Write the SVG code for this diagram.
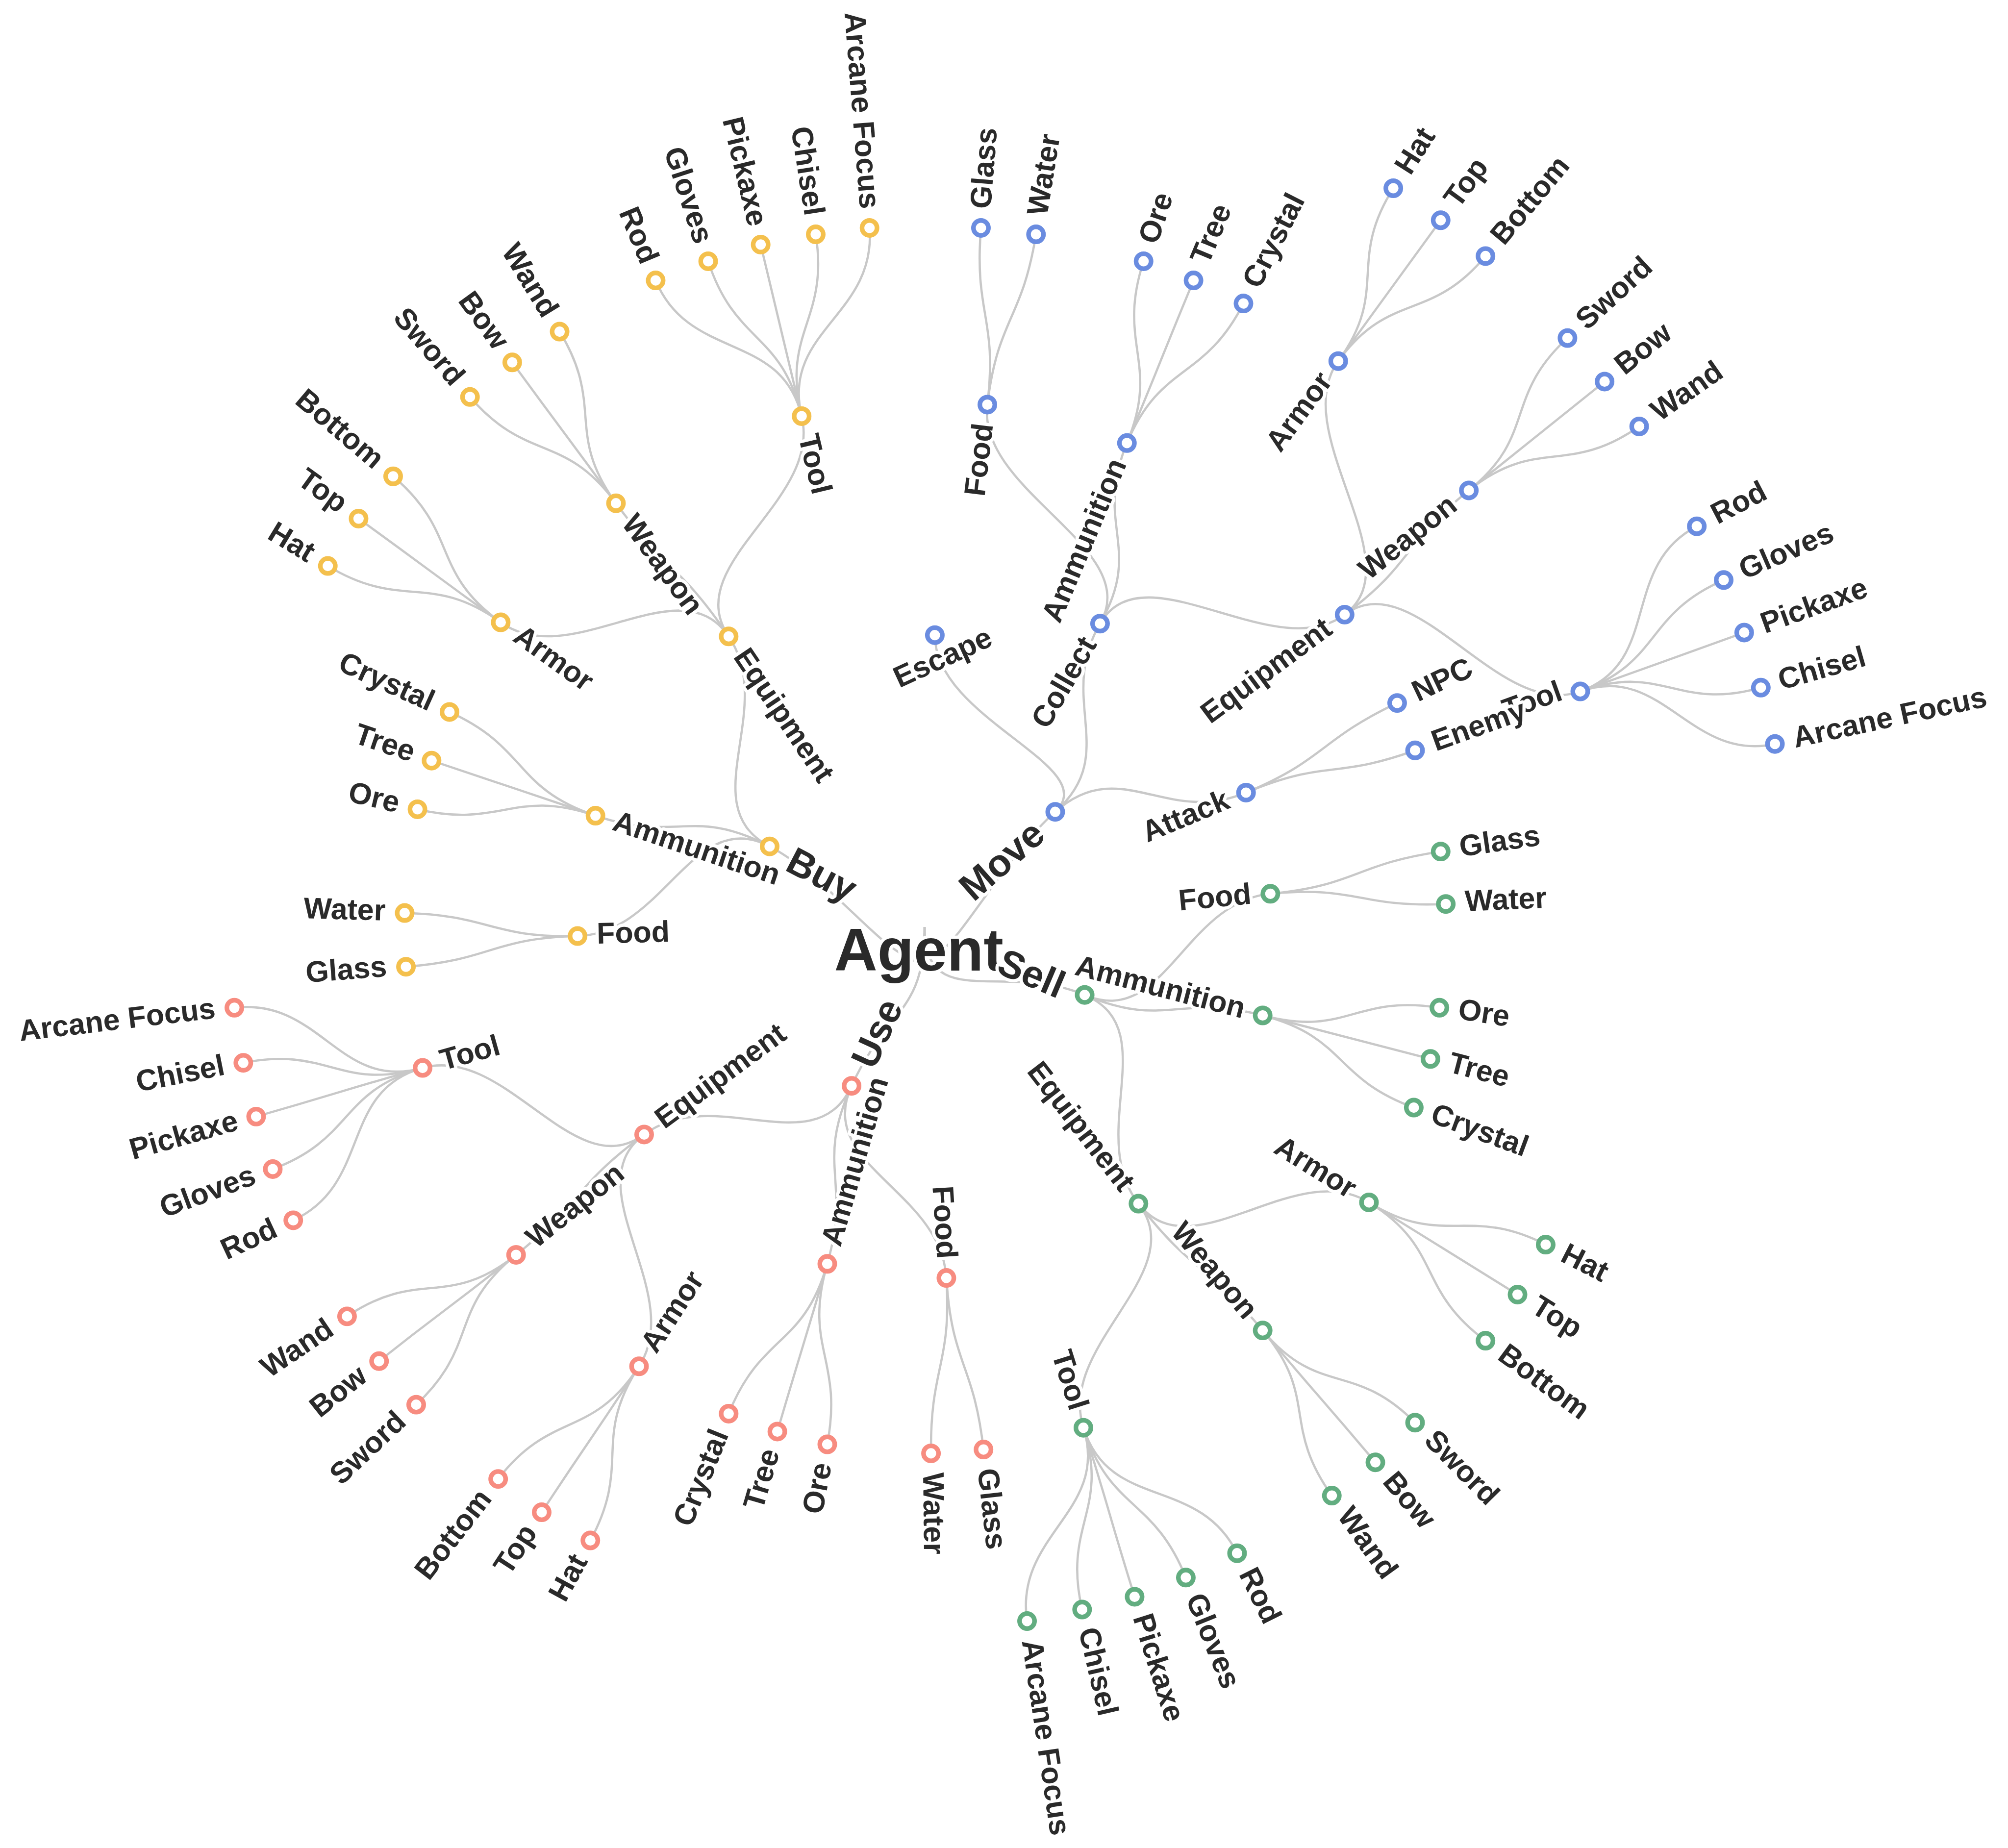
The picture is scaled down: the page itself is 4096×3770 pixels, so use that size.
<svg xmlns="http://www.w3.org/2000/svg" width="4096" height="3770" viewBox="0 0 4096 3770">
<style>
.lk path{fill:none;stroke:#c8c8c8;stroke-width:1.75}
circle{fill:#fff;stroke-width:3.6}
.y circle{stroke:#F4C04D}
.b circle{stroke:#6A8CE0}
.g circle{stroke:#62AD80}
.r circle{stroke:#F78C80}
text{font-family:"Liberation Sans",Arial,Helvetica,sans-serif;font-weight:700;font-size:23.3px;fill:#2a2a2a;stroke:#fff;stroke-width:5px;stroke-linejoin:round;paint-order:stroke}
text.e{text-anchor:end}
text.d1{font-size:30px}
#root text{font-size:46.6px;text-anchor:middle}
#root circle{fill:#d8d8d8;stroke:#c2c2c2;stroke-width:2}
</style>
<rect width="4096" height="3770" fill="#fff"/>
<g transform="translate(1886.04,1891.26) scale(2.61224)">
<g id="links" class="lk">
<path d="M0,0C0,68 -60.5,-31.5 -121,-63"/>
<path d="M0,0C0,68 51,-45 102,-90"/>
<path d="M0,0C0,68 62.5,26.5 125,53"/>
<path d="M0,0C0,68 -28.5,62 -57,124"/>
<path d="M-121,-63C-181.5,-94.5 -192.8,-65.3 -257,-87"/>
<path d="M-121,-63C-181.5,-94.5 -203.3,5.3 -271,7"/>
<path d="M-121,-63C-181.5,-94.5 -114.8,-170.3 -153,-227"/>
<path d="M102,-90C153,-135 102.8,-177.8 137,-237"/>
<path d="M102,-90C153,-135 188.3,-78.8 251,-105"/>
<path d="M102,-90C140,-126 8,-162 8,-228"/>
<path d="M125,53C187.5,79.5 202.5,-19.5 270,-26"/>
<path d="M125,53C187.5,79.5 198,51.8 264,69"/>
<path d="M125,53C187.5,79.5 125.3,162 167,216"/>
<path d="M-57,124C-85.5,186 -164.3,121.5 -219,162"/>
<path d="M-57,124C-85.5,186 -57,197.3 -76,263"/>
<path d="M-57,124C-85.5,186 12.8,205.5 17,274"/>
<path d="M-257,-87C-321.3,-108.8 -309.2,-140 -371,-168"/>
<path d="M-257,-87C-321.3,-108.8 -320.8,-108.3 -385,-130"/>
<path d="M-257,-87C-321.3,-108.8 -330,-76.7 -396,-92"/>
<path d="M-271,7C-338.8,8.8 -338.3,-9.2 -406,-11"/>
<path d="M-271,7C-338.8,8.8 -337.5,25.8 -405,31"/>
<path d="M-153,-227C-191.3,-283.8 -275.8,-198.3 -331,-238"/>
<path d="M-153,-227C-191.3,-283.8 -200.8,-275.8 -241,-331"/>
<path d="M-153,-227C-191.3,-283.8 -80,-332.5 -96,-399"/>
<path d="M137,-237C171.3,-296.3 40.8,-340 49,-408"/>
<path d="M137,-237C171.3,-296.3 131.7,-315 158,-378"/>
<path d="M137,-237C171.3,-296.3 273.3,-203.3 328,-244"/>
<path d="M251,-105C313.8,-131.3 307.5,-145.8 369,-175"/>
<path d="M251,-105C313.8,-131.3 319.2,-115 383,-138"/>
<path d="M270,-26C337.5,-32.5 335.8,-49.2 403,-59"/>
<path d="M270,-26C337.5,-32.5 339.2,-15 407,-18"/>
<path d="M264,69C330,86.3 335,52.5 402,63"/>
<path d="M264,69C330,86.3 329.2,85.8 395,103"/>
<path d="M264,69C330,86.3 318.3,117.5 382,141"/>
<path d="M167,216C208.8,270 289.2,179.2 347,215"/>
<path d="M167,216C208.8,270 220,262.5 264,315"/>
<path d="M167,216C208.8,270 103.3,325.8 124,391"/>
<path d="M-219,162C-273.8,202.5 -326.7,91.7 -392,110"/>
<path d="M-219,162C-273.8,202.5 -265.8,213.3 -319,256"/>
<path d="M-219,162C-273.8,202.5 -185.8,285.8 -223,343"/>
<path d="M-76,263C-95,328.8 -127.5,316.7 -153,380"/>
<path d="M-76,263C-95,328.8 -95.8,328.3 -115,394"/>
<path d="M-76,263C-95,328.8 -63.3,336.7 -76,404"/>
<path d="M17,274C21.3,342.5 4.2,342.5 5,411"/>
<path d="M17,274C21.3,342.5 38.3,340 46,408"/>
<path d="M-331,-238C-386.2,-277.7 -363.1,-308 -415,-352"/>
<path d="M-331,-238C-386.2,-277.7 -386.8,-279.1 -442,-319"/>
<path d="M-331,-238C-386.2,-277.7 -407.8,-246.8 -466,-282"/>
<path d="M-241,-331C-281.2,-386.2 -310.6,-362.3 -355,-414"/>
<path d="M-241,-331C-281.2,-386.2 -281.8,-385.9 -322,-441"/>
<path d="M-241,-331C-281.2,-386.2 -249.4,-406.9 -285,-465"/>
<path d="M-96,-399C-112,-465.5 -183.8,-441.9 -210,-505"/>
<path d="M-96,-399C-112,-465.5 -147.9,-455 -169,-520"/>
<path d="M-96,-399C-112,-465.5 -112,-466.4 -128,-533"/>
<path d="M-96,-399C-112,-465.5 -74.4,-473.4 -85,-541"/>
<path d="M-96,-399C-112,-465.5 -37.6,-477.8 -43,-546"/>
<path d="M49,-408C57.2,-476 38.5,-477.8 44,-546"/>
<path d="M49,-408C57.2,-476 76.1,-473.4 87,-541"/>
<path d="M158,-378C184.3,-441 149.6,-455 171,-520"/>
<path d="M158,-378C184.3,-441 183.8,-441.9 210,-505"/>
<path d="M158,-378C184.3,-441 217.9,-426.1 249,-487"/>
<path d="M328,-244C382.7,-284.7 282.6,-386.8 323,-442"/>
<path d="M328,-244C382.7,-284.7 371.9,-298.4 425,-341"/>
<path d="M328,-244C382.7,-284.7 448,-161 512,-184"/>
<path d="M347,215C404.8,250.8 424.4,217 485,248"/>
<path d="M347,215C404.8,250.8 405.1,251.1 463,287"/>
<path d="M347,215C404.8,250.8 383.3,282.6 438,323"/>
<path d="M264,315C308,367.5 335.1,338.6 383,387"/>
<path d="M264,315C308,367.5 308,365.8 352,418"/>
<path d="M264,315C308,367.5 278.3,388.5 318,444"/>
<path d="M124,391C144.7,456.2 213.5,427.9 244,489"/>
<path d="M124,391C144.7,456.2 178.5,444.5 204,508"/>
<path d="M124,391C144.7,456.2 143.5,457.6 164,523"/>
<path d="M124,391C144.7,456.2 107.6,466.4 123,533"/>
<path d="M124,391C144.7,456.2 70,474.3 80,542"/>
<path d="M-392,110C-457.3,128.3 -471.6,55.1 -539,63"/>
<path d="M-392,110C-457.3,128.3 -465.5,92.8 -532,106"/>
<path d="M-392,110C-457.3,128.3 -456.8,129.5 -522,148"/>
<path d="M-392,110C-457.3,128.3 -445.4,165.4 -509,189"/>
<path d="M-392,110C-457.3,128.3 -431.4,200.4 -493,229"/>
<path d="M-319,256C-372.2,298.7 -394.6,266 -451,304"/>
<path d="M-319,256C-372.2,298.7 -372.8,296.6 -426,339"/>
<path d="M-319,256C-372.2,298.7 -347.4,326.4 -397,373"/>
<path d="M-223,343C-260.2,400.2 -291.4,377.1 -333,431"/>
<path d="M-223,343C-260.2,400.2 -261.6,399.9 -299,457"/>
<path d="M-223,343C-260.2,400.2 -228.4,419.1 -261,479"/>
<path d="M323,-442C363.4,-497.3 329.4,-519.3 366,-577"/>
<path d="M323,-442C363.4,-497.3 362.7,-496.8 403,-552"/>
<path d="M323,-442C363.4,-497.3 394.2,-471.6 438,-524"/>
<path d="M425,-341C478.1,-383.6 451.8,-414 502,-460"/>
<path d="M425,-341C478.1,-383.6 477.9,-383.4 531,-426"/>
<path d="M425,-341C478.1,-383.6 502.2,-351.9 558,-391"/>
<path d="M512,-184C576,-207 542.7,-281.7 603,-313"/>
<path d="M512,-184C576,-207 561.6,-243.9 624,-271"/>
<path d="M512,-184C576,-207 576,-207 640,-230"/>
<path d="M512,-184C576,-207 587.7,-168.3 653,-187"/>
<path d="M512,-184C576,-207 597.6,-128.7 664,-143"/>
</g>
<g id="nodes">
<g id="root"><circle cx="-11.6" cy="22.9" r="4"/><text transform="translate(-4.5,34)">Agent</text></g>

<g id="buy" class="y"><circle cx="-121" cy="-63" r="5.85"/><text class="d1" transform="translate(-121,-63) rotate(27.5)" x="18" y="11">Buy</text></g>
<g id="buy-ammunition" class="y"><circle cx="-257" cy="-87" r="5.85"/><text transform="translate(-257,-87) rotate(18.7)" x="15" y="6.3">Ammunition</text></g>
<g id="buy-crystal" class="y"><circle cx="-371" cy="-168" r="5.85"/><text class="e" transform="translate(-371,-168) rotate(24.4)" x="-15" y="6.3">Crystal</text></g>
<g id="buy-tree" class="y"><circle cx="-385" cy="-130" r="5.85"/><text class="e" transform="translate(-385,-130) rotate(18.7)" x="-15" y="6.3">Tree</text></g>
<g id="buy-ore" class="y"><circle cx="-396" cy="-92" r="5.85"/><text class="e" transform="translate(-396,-92) rotate(13.1)" x="-15" y="6.3">Ore</text></g>
<g id="buy-food" class="y"><circle cx="-271" cy="7" r="5.85"/><text transform="translate(-271,7) rotate(-1.5)" x="15" y="6.3">Food</text></g>
<g id="buy-water" class="y"><circle cx="-406" cy="-11" r="5.85"/><text class="e" transform="translate(-406,-11) rotate(1.6)" x="-15" y="6.3">Water</text></g>
<g id="buy-glass" class="y"><circle cx="-405" cy="31" r="5.85"/><text class="e" transform="translate(-405,31) rotate(-4.4)" x="-15" y="6.3">Glass</text></g>
<g id="buy-equipment" class="y"><circle cx="-153" cy="-227" r="5.85"/><text transform="translate(-153,-227) rotate(56)" x="15" y="6.3">Equipment</text></g>
<g id="buy-armor" class="y"><circle cx="-331" cy="-238" r="5.85"/><text transform="translate(-331,-238) rotate(35.7)" x="15" y="6.3">Armor</text></g>
<g id="buy-bottom" class="y"><circle cx="-415" cy="-352" r="5.85"/><text class="e" transform="translate(-415,-352) rotate(40.3)" x="-15" y="6.3">Bottom</text></g>
<g id="buy-top" class="y"><circle cx="-442" cy="-319" r="5.85"/><text class="e" transform="translate(-442,-319) rotate(35.8)" x="-15" y="6.3">Top</text></g>
<g id="buy-hat" class="y"><circle cx="-466" cy="-282" r="5.85"/><text class="e" transform="translate(-466,-282) rotate(31.2)" x="-15" y="6.3">Hat</text></g>
<g id="buy-weapon" class="y"><circle cx="-241" cy="-331" r="5.85"/><text transform="translate(-241,-331) rotate(54)" x="15" y="6.3">Weapon</text></g>
<g id="buy-sword" class="y"><circle cx="-355" cy="-414" r="5.85"/><text class="e" transform="translate(-355,-414) rotate(49.4)" x="-15" y="6.3">Sword</text></g>
<g id="buy-bow" class="y"><circle cx="-322" cy="-441" r="5.85"/><text class="e" transform="translate(-322,-441) rotate(53.9)" x="-15" y="6.3">Bow</text></g>
<g id="buy-wand" class="y"><circle cx="-285" cy="-465" r="5.85"/><text class="e" transform="translate(-285,-465) rotate(58.5)" x="-15" y="6.3">Wand</text></g>
<g id="buy-tool" class="y"><circle cx="-96" cy="-399" r="5.85"/><text transform="translate(-96,-399) rotate(76.5)" x="15" y="6.3">Tool</text></g>
<g id="buy-rod" class="y"><circle cx="-210" cy="-505" r="5.85"/><text class="e" transform="translate(-210,-505) rotate(67.4)" x="-15" y="6.3">Rod</text></g>
<g id="buy-gloves" class="y"><circle cx="-169" cy="-520" r="5.85"/><text class="e" transform="translate(-169,-520) rotate(72)" x="-15" y="6.3">Gloves</text></g>
<g id="buy-pickaxe" class="y"><circle cx="-128" cy="-533" r="5.85"/><text class="e" transform="translate(-128,-533) rotate(76.5)" x="-15" y="6.3">Pickaxe</text></g>
<g id="buy-chisel" class="y"><circle cx="-85" cy="-541" r="5.85"/><text class="e" transform="translate(-85,-541) rotate(81.1)" x="-15" y="6.3">Chisel</text></g>
<g id="buy-arcane" class="y"><circle cx="-43" cy="-546" r="5.85"/><text class="e" transform="translate(-43,-546) rotate(85.5)" x="-15" y="6.3">Arcane Focus</text></g>

<g id="move" class="b"><circle cx="102" cy="-90" r="5.85"/><text class="d1 e" transform="translate(102,-90) rotate(-41.4)" x="-18" y="11">Move</text></g>
<g id="move-escape" class="b"><circle cx="8" cy="-228" r="5.85"/><text transform="translate(-19.7,-186.5) rotate(-24.7)">Escape</text></g>
<g id="move-collect" class="b"><circle cx="137" cy="-237" r="5.85"/><text class="e" transform="translate(137,-237) rotate(-60)" x="-15" y="6.3">Collect</text></g>
<g id="move-food" class="b"><circle cx="49" cy="-408" r="5.85"/><text class="e" transform="translate(49,-408) rotate(-83.2)" x="-15" y="6.3">Food</text></g>
<g id="move-glass" class="b"><circle cx="44" cy="-546" r="5.85"/><text transform="translate(44,-546) rotate(-85.4)" x="15" y="6.3">Glass</text></g>
<g id="move-water" class="b"><circle cx="87" cy="-541" r="5.85"/><text transform="translate(87,-541) rotate(-80.9)" x="15" y="6.3">Water</text></g>
<g id="move-ammunition" class="b"><circle cx="158" cy="-378" r="5.85"/><text class="e" transform="translate(158,-378) rotate(-67.3)" x="-15" y="6.3">Ammunition</text></g>
<g id="move-ore" class="b"><circle cx="171" cy="-520" r="5.85"/><text transform="translate(171,-520) rotate(-71.8)" x="15" y="6.3">Ore</text></g>
<g id="move-tree" class="b"><circle cx="210" cy="-505" r="5.85"/><text transform="translate(210,-505) rotate(-67.4)" x="15" y="6.3">Tree</text></g>
<g id="move-crystal" class="b"><circle cx="249" cy="-487" r="5.85"/><text transform="translate(249,-487) rotate(-62.9)" x="15" y="6.3">Crystal</text></g>
<g id="move-equipment" class="b"><circle cx="328" cy="-244" r="5.85"/><text class="e" transform="translate(328,-244) rotate(-36.6)" x="-15" y="6.3">Equipment</text></g>
<g id="move-armor" class="b"><circle cx="323" cy="-442" r="5.85"/><text class="e" transform="translate(323,-442) rotate(-53.8)" x="-15" y="6.3">Armor</text></g>
<g id="move-hat" class="b"><circle cx="366" cy="-577" r="5.85"/><text transform="translate(366,-577) rotate(-57.6)" x="15" y="6.3">Hat</text></g>
<g id="move-top" class="b"><circle cx="403" cy="-552" r="5.85"/><text transform="translate(403,-552) rotate(-53.9)" x="15" y="6.3">Top</text></g>
<g id="move-bottom" class="b"><circle cx="438" cy="-524" r="5.85"/><text transform="translate(438,-524) rotate(-50.1)" x="15" y="6.3">Bottom</text></g>
<g id="move-weapon" class="b"><circle cx="425" cy="-341" r="5.85"/><text class="e" transform="translate(425,-341) rotate(-38.7)" x="-15" y="6.3">Weapon</text></g>
<g id="move-sword" class="b"><circle cx="502" cy="-460" r="5.85"/><text transform="translate(502,-460) rotate(-42.5)" x="15" y="6.3">Sword</text></g>
<g id="move-bow" class="b"><circle cx="531" cy="-426" r="5.85"/><text transform="translate(531,-426) rotate(-38.7)" x="15" y="6.3">Bow</text></g>
<g id="move-wand" class="b"><circle cx="558" cy="-391" r="5.85"/><text transform="translate(558,-391) rotate(-35)" x="15" y="6.3">Wand</text></g>
<g id="move-tool" class="b"><circle cx="512" cy="-184" r="5.85"/><text class="e" transform="translate(512,-184) rotate(-19.8)" x="-14" y="1.5">Tool</text></g>
<g id="move-rod" class="b"><circle cx="603" cy="-313" r="5.85"/><text transform="translate(603,-313) rotate(-27.4)" x="15" y="6.3">Rod</text></g>
<g id="move-gloves" class="b"><circle cx="624" cy="-271" r="5.85"/><text transform="translate(624,-271) rotate(-23.5)" x="15" y="6.3">Gloves</text></g>
<g id="move-pickaxe" class="b"><circle cx="640" cy="-230" r="5.85"/><text transform="translate(640,-230) rotate(-19.8)" x="15" y="6.3">Pickaxe</text></g>
<g id="move-chisel" class="b"><circle cx="653" cy="-187" r="5.85"/><text transform="translate(653,-187) rotate(-16)" x="15" y="6.3">Chisel</text></g>
<g id="move-arcane" class="b"><circle cx="664" cy="-143" r="5.85"/><text transform="translate(664,-143) rotate(-12.2)" x="15" y="6.3">Arcane Focus</text></g>
<g id="move-attack" class="b"><circle cx="251" cy="-105" r="5.85"/><text class="e" transform="translate(251,-105) rotate(-22.7)" x="-15" y="6.3">Attack</text></g>
<g id="move-npc" class="b"><circle cx="369" cy="-175" r="5.85"/><text transform="translate(369,-175) rotate(-25.4)" x="15" y="6.3">NPC</text></g>
<g id="move-enemy" class="b"><circle cx="383" cy="-138" r="5.85"/><text transform="translate(383,-138) rotate(-19.8)" x="15" y="6.3">Enemy</text></g>

<g id="sell" class="g"><circle cx="125" cy="53" r="5.85"/><text class="d1 e" transform="translate(125,53) rotate(23)" x="-18" y="11">Sell</text></g>
<g id="sell-food" class="g"><circle cx="270" cy="-26" r="5.85"/><text class="e" transform="translate(270,-26) rotate(-5.5)" x="-15" y="6.3">Food</text></g>
<g id="sell-glass" class="g"><circle cx="403" cy="-59" r="5.85"/><text transform="translate(403,-59) rotate(-8.3)" x="15" y="6.3">Glass</text></g>
<g id="sell-water" class="g"><circle cx="407" cy="-18" r="5.85"/><text transform="translate(407,-18) rotate(-2.5)" x="15" y="6.3">Water</text></g>
<g id="sell-ammunition" class="g"><circle cx="264" cy="69" r="5.85"/><text class="e" transform="translate(264,69) rotate(14.6)" x="-15" y="6.3">Ammunition</text></g>
<g id="sell-ore" class="g"><circle cx="402" cy="63" r="5.85"/><text transform="translate(402,63) rotate(8.9)" x="15" y="6.3">Ore</text></g>
<g id="sell-tree" class="g"><circle cx="395" cy="103" r="5.85"/><text transform="translate(395,103) rotate(14.6)" x="15" y="6.3">Tree</text></g>
<g id="sell-crystal" class="g"><circle cx="382" cy="141" r="5.85"/><text transform="translate(382,141) rotate(20.3)" x="15" y="6.3">Crystal</text></g>
<g id="sell-equipment" class="g"><circle cx="167" cy="216" r="5.85"/><text class="e" transform="translate(167,216) rotate(52.3)" x="-15" y="6.3">Equipment</text></g>
<g id="sell-armor" class="g"><circle cx="347" cy="215" r="5.85"/><text class="e" transform="translate(347,215) rotate(31.8)" x="-15" y="6.3">Armor</text></g>
<g id="sell-hat" class="g"><circle cx="485" cy="248" r="5.85"/><text transform="translate(485,248) rotate(27.1)" x="15" y="6.3">Hat</text></g>
<g id="sell-top" class="g"><circle cx="463" cy="287" r="5.85"/><text transform="translate(463,287) rotate(31.8)" x="15" y="6.3">Top</text></g>
<g id="sell-bottom" class="g"><circle cx="438" cy="323" r="5.85"/><text transform="translate(438,323) rotate(36.4)" x="15" y="6.3">Bottom</text></g>
<g id="sell-weapon" class="g"><circle cx="264" cy="315" r="5.85"/><text class="e" transform="translate(264,315) rotate(50)" x="-15" y="6.3">Weapon</text></g>
<g id="sell-sword" class="g"><circle cx="383" cy="387" r="5.85"/><text transform="translate(383,387) rotate(45.3)" x="15" y="6.3">Sword</text></g>
<g id="sell-bow" class="g"><circle cx="352" cy="418" r="5.85"/><text transform="translate(352,418) rotate(49.9)" x="15" y="6.3">Bow</text></g>
<g id="sell-wand" class="g"><circle cx="318" cy="444" r="5.85"/><text transform="translate(318,444) rotate(54.4)" x="15" y="6.3">Wand</text></g>
<g id="sell-tool" class="g"><circle cx="124" cy="391" r="5.85"/><text class="e" transform="translate(124,391) rotate(72.4)" x="-15" y="6.3">Tool</text></g>
<g id="sell-rod" class="g"><circle cx="244" cy="489" r="5.85"/><text transform="translate(244,489) rotate(63.5)" x="15" y="6.3">Rod</text></g>
<g id="sell-gloves" class="g"><circle cx="204" cy="508" r="5.85"/><text transform="translate(204,508) rotate(68.1)" x="15" y="6.3">Gloves</text></g>
<g id="sell-pickaxe" class="g"><circle cx="164" cy="523" r="5.85"/><text transform="translate(164,523) rotate(72.6)" x="15" y="6.3">Pickaxe</text></g>
<g id="sell-chisel" class="g"><circle cx="123" cy="533" r="5.85"/><text transform="translate(123,533) rotate(77)" x="15" y="6.3">Chisel</text></g>
<g id="sell-arcane" class="g"><circle cx="80" cy="542" r="5.85"/><text transform="translate(80,542) rotate(81.6)" x="15" y="6.3">Arcane Focus</text></g>

<g id="use" class="r"><circle cx="-57" cy="124" r="5.85"/><text class="d1" transform="translate(-57,124) rotate(-65.3)" x="18" y="11">Use</text></g>
<g id="use-equipment" class="r"><circle cx="-219" cy="162" r="5.85"/><text transform="translate(-219,162) rotate(-36.5)" x="15" y="6.3">Equipment</text></g>
<g id="use-tool" class="r"><circle cx="-392" cy="110" r="5.85"/><text transform="translate(-392,110) rotate(-15.7)" x="15" y="6.3">Tool</text></g>
<g id="use-arcane" class="r"><circle cx="-539" cy="63" r="5.85"/><text class="e" transform="translate(-539,63) rotate(-6.7)" x="-15" y="6.3">Arcane Focus</text></g>
<g id="use-chisel" class="r"><circle cx="-532" cy="106" r="5.85"/><text class="e" transform="translate(-532,106) rotate(-11.3)" x="-15" y="6.3">Chisel</text></g>
<g id="use-pickaxe" class="r"><circle cx="-522" cy="148" r="5.85"/><text class="e" transform="translate(-522,148) rotate(-15.8)" x="-15" y="6.3">Pickaxe</text></g>
<g id="use-gloves" class="r"><circle cx="-509" cy="189" r="5.85"/><text class="e" transform="translate(-509,189) rotate(-20.4)" x="-15" y="6.3">Gloves</text></g>
<g id="use-rod" class="r"><circle cx="-493" cy="229" r="5.85"/><text class="e" transform="translate(-493,229) rotate(-24.9)" x="-15" y="6.3">Rod</text></g>
<g id="use-weapon" class="r"><circle cx="-319" cy="256" r="5.85"/><text transform="translate(-319,256) rotate(-38.75)" x="15" y="6.3">Weapon</text></g>
<g id="use-wand" class="r"><circle cx="-451" cy="304" r="5.85"/><text class="e" transform="translate(-451,304) rotate(-34)" x="-15" y="6.3">Wand</text></g>
<g id="use-bow" class="r"><circle cx="-426" cy="339" r="5.85"/><text class="e" transform="translate(-426,339) rotate(-38.5)" x="-15" y="6.3">Bow</text></g>
<g id="use-sword" class="r"><circle cx="-397" cy="373" r="5.85"/><text class="e" transform="translate(-397,373) rotate(-43.2)" x="-15" y="6.3">Sword</text></g>
<g id="use-armor" class="r"><circle cx="-223" cy="343" r="5.85"/><text transform="translate(-223,343) rotate(-57)" x="15" y="6.3">Armor</text></g>
<g id="use-bottom" class="r"><circle cx="-333" cy="431" r="5.85"/><text class="e" transform="translate(-333,431) rotate(-52.3)" x="-15" y="6.3">Bottom</text></g>
<g id="use-top" class="r"><circle cx="-299" cy="457" r="5.85"/><text class="e" transform="translate(-299,457) rotate(-56.8)" x="-15" y="6.3">Top</text></g>
<g id="use-hat" class="r"><circle cx="-261" cy="479" r="5.85"/><text class="e" transform="translate(-261,479) rotate(-61.4)" x="-15" y="6.3">Hat</text></g>
<g id="use-ammunition" class="r"><circle cx="-76" cy="263" r="5.85"/><text transform="translate(-76,263) rotate(-73.9)" x="15" y="6.3">Ammunition</text></g>
<g id="use-crystal" class="r"><circle cx="-153" cy="380" r="5.85"/><text class="e" transform="translate(-153,380) rotate(-68.1)" x="-15" y="6.3">Crystal</text></g>
<g id="use-tree" class="r"><circle cx="-115" cy="394" r="5.85"/><text class="e" transform="translate(-115,394) rotate(-73.7)" x="-15" y="6.3">Tree</text></g>
<g id="use-ore" class="r"><circle cx="-76" cy="404" r="5.85"/><text class="e" transform="translate(-76,404) rotate(-79.3)" x="-15" y="6.3">Ore</text></g>
<g id="use-food" class="r"><circle cx="17" cy="274" r="5.85"/><text class="e" transform="translate(17,274) rotate(86.4)" x="-15" y="6.3">Food</text></g>
<g id="use-water" class="r"><circle cx="5" cy="411" r="5.85"/><text transform="translate(5,411) rotate(89.3)" x="15" y="6.3">Water</text></g>
<g id="use-glass" class="r"><circle cx="46" cy="408" r="5.85"/><text transform="translate(46,408) rotate(83.6)" x="15" y="6.3">Glass</text></g>
</g>
</g>
</svg>
